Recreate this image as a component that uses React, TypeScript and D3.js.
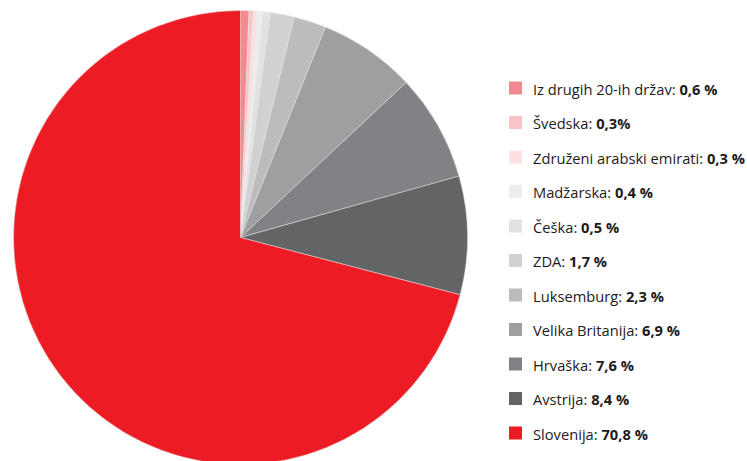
import React from "react";
import * as d3 from "d3";

const countries = [
  "Iz drugih 20-ih držav",
  "Švedska",
  "Združeni arabski emirati",
  "Madžarska",
  "Češka",
  "ZDA",
  "Luksemburg",
  "Velika Britanija",
  "Hrvaška",
  "Avstrija",
  "Slovenija",
];
const shares = [0.6, 0.3, 0.3, 0.4, 0.5, 1.7, 2.3, 6.9, 7.6, 8.4, 70.8];
const shareLabels = ["0,6 %", "0,3%", "0,3 %", "0,4 %", "0,5 %", "1,7 %", "2,3 %", "6,9 %", "7,6 %", "8,4 %", "70,8 %"];
const colors = [
  "#f48a90",
  "#f8c4c6",
  "#fce1e2",
  "#ededed",
  "#e2e2e3",
  "#d1d1d2",
  "#bcbcbe",
  "#9e9fa1",
  "#818285",
  "#636466",
  "#ed1c24",
];

export default function App() {
  const W = 747, H = 461;
  const cx = 240.5, cy = 237.5, r = 227;
  const pie = d3.pie<number>().sort(null).value((d) => d);
  const arcs = pie(shares);
  const arc = d3.arc<d3.PieArcDatum<number>>().innerRadius(0).outerRadius(r);
  const rowY = d3.scaleLinear().domain([0, countries.length - 1]).range([88, 433]);
  return (
    <svg width={W} height={H} style={{ position: "absolute", left: 0, top: 0 }}>
      <rect width={W} height={H} fill="#fff" />
      <g transform={`translate(${cx},${cy})`}>
        {arcs.map((a, i) => (
          <path key={i} d={arc(a) || ""} fill={colors[i]} stroke="#e6e6e6" strokeWidth={0.5} />
        ))}
      </g>
      <g fontFamily="'Open Sans', 'Noto Sans', sans-serif" fontSize={14.7} fill="#1e1b1c">
        {countries.map((c, i) => (
          <g key={c} transform={`translate(509,${rowY(i)})`}>
            <rect x={0} y={-6.5} width={13} height={13} fill={colors[i]} />
            <text x={24} y={0.5} dominantBaseline="central">
              {c}: <tspan fontWeight="bold">{shareLabels[i]}</tspan>
            </text>
          </g>
        ))}
      </g>
    </svg>
  );
}
